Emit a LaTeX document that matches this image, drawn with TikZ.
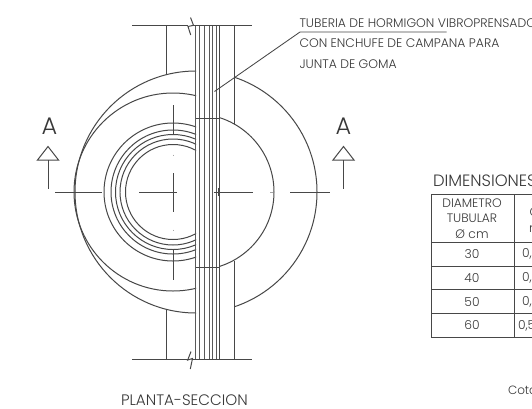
\documentclass[tikz,border=0pt]{standalone}
\usepackage{fontspec}
\setmainfont{Poppins Light}
\tikzset{
  ln/.style={draw=black!72,line width=1pt},
  tube/.style={draw=black!65,line width=0.75pt},
  txt/.style={text=black!78,inner sep=0pt,outer sep=0pt},
  lab/.style={txt,anchor=base west,font=\fontsize{12.4}{13}\selectfont},
  cell/.style={txt,anchor=center,font=\fontsize{12.3}{13}\selectfont},
}
\begin{document}
\begin{tikzpicture}[x=1pt,y=-1pt]
\useasboundingbox (0,0) rectangle (532,408);
\clip (0,0) rectangle (532,408);
\fill[white] (0,0) rectangle (532,408);
% left half arcs
\begin{scope}
  \clip (0,0) rectangle (196,408);
  \draw[ln] (196,192) circle[radius=121];
  \foreach \r in {99,69,62,57.5,53,47.5} \draw[ln] (173,192) circle[radius=\r];
\end{scope}
% right arcs
\begin{scope}
  \clip (234,0) rectangle (532,408);
  \draw[ln] (196,192) circle[radius=121];
\end{scope}
\begin{scope}
  \clip (220,0) rectangle (532,408);
  \draw[ln] (196,192) circle[radius=78];
\end{scope}
% tube
\foreach \x in {195.7,199.3,204.7,209.3,212.7,216.7} \draw[tube] (\x,25) -- (\x,359);
\draw[ln,line width=1.2pt] (219.7,25) -- (219.7,359);
\draw[ln] (196,118) -- (220,118);
\draw[ln] (196,267) -- (220,267);
% walls
\draw[ln] (166,25) -- (166,75);
\draw[ln] (166,310) -- (166,359);
\draw[ln] (234,25) -- (234,124);
\draw[ln] (234,261) -- (234,359);
% end lines with breaks
\draw[ln] (132,25) -- (188,25);
\draw[ln] (193.5,25) -- (252,25);
\draw[ln] (132,359) -- (187.5,359);
\draw[ln] (193,359) -- (252,359);
\draw[ln] (190.5,17.5) -- (193.5,25.3) -- (188,26.5) -- (190.7,35);
\draw[ln] (191,351.5) -- (187.7,360) -- (192.5,358.5) -- (190.3,369);
% centre lines
\draw[ln] (55,192) -- (102,192);
\draw[ln] (139,192) -- (177,192);
\draw[ln] (213.5,192) -- (252.5,192);
\draw[ln] (290,192) -- (330,192);
\draw[ln] (173,173) -- (173,212);
\draw[ln] (173,105) -- (173,135);
\draw[ln] (173,250) -- (173,280);
\draw[ln] (218,188) -- (218,196);
\draw[black!35,line width=0.5pt] (173,154.5) -- (173,155.5) (173,229.5) -- (173,230.5) (120,191.5) -- (120,192.5) (270,192) -- (273,192);
% section marks
\node[txt,font=\fontsize{24}{26}\selectfont,anchor=base] (aL) at (49.5,134) {A};
\node[txt,font=\fontsize{24}{26}\selectfont,anchor=base] (aR) at (343.5,134) {A};
\coordinate (tipL) at (48,146.5);
\coordinate (tipR) at (343.5,146.5);
\draw[ln,line join=miter] (tipL) -- (37.5,160) -- (58.5,160) -- cycle;
\draw[ln] (48,160) -- (48,188.5);
\draw[ln,line join=miter] (tipR) -- (333,160) -- (354,160) -- cycle;
\draw[ln] (343.5,160) -- (343.5,188.5);
% leader
\coordinate (lA) at (214.5,91.5);
\coordinate (lB) at (300,32);
\coordinate (lC) at (446.5,32);
\draw[ln,line width=0.85pt] (lA) -- (lB) -- (lC);
\node[lab] (t1) at (299.5,27) {TUBERIA DE HORMIGON VIBROPRENSADO};
\node[lab] (t2) at (299.5,47.5) {CON ENCHUFE DE CAMPANA PARA};
\node[lab] (t3) at (299.5,68) {JUNTA DE GOMA};
\node[txt,anchor=base west,font=\fontsize{15.2}{18}\selectfont] (title) at (121,405.5) {PLANTA-SECCION};
% table
\node[txt,anchor=base west,font=\fontsize{16.4}{18}\selectfont] (dim) at (433,186.5) {DIMENSIONES};
\draw[ln] (540,194) -- (431,194) -- (431,337.3) -- (540,337.3);
\draw[ln] (514,194) -- (514,337.3);
\foreach \y in {242,266,289.7,313.7} \draw[ln] (431,\y) -- (540,\y);
\node[cell] (h1) at (472,203) {DIAMETRO};
\node[cell] (h2) at (472,218.5) {TUBULAR};
\node[cell] (h3) at (472,234) {Ø cm};
\node[cell] (r1) at (472,254) {30};
\node[cell] (r2) at (472,278) {40};
\node[cell] (r3) at (472,302) {50};
\node[cell] (r4) at (472,325.5) {60};
\node[cell,anchor=west] (c1) at (522,254) {0,};
\node[cell,anchor=west] (c2) at (522,278) {0,};
\node[cell,anchor=west] (c3) at (522,302) {0,};
\node[cell,anchor=west] (c4) at (518,325.5) {0,5};
\node[cell,anchor=west] (ch1) at (529.5,212) {C};
\node[cell,anchor=west] (ch2) at (529,229) {m};
\node[txt,anchor=west,font=\fontsize{12}{13}\selectfont] (cota) at (508,390) {Cota};
\end{tikzpicture}
\end{document}
